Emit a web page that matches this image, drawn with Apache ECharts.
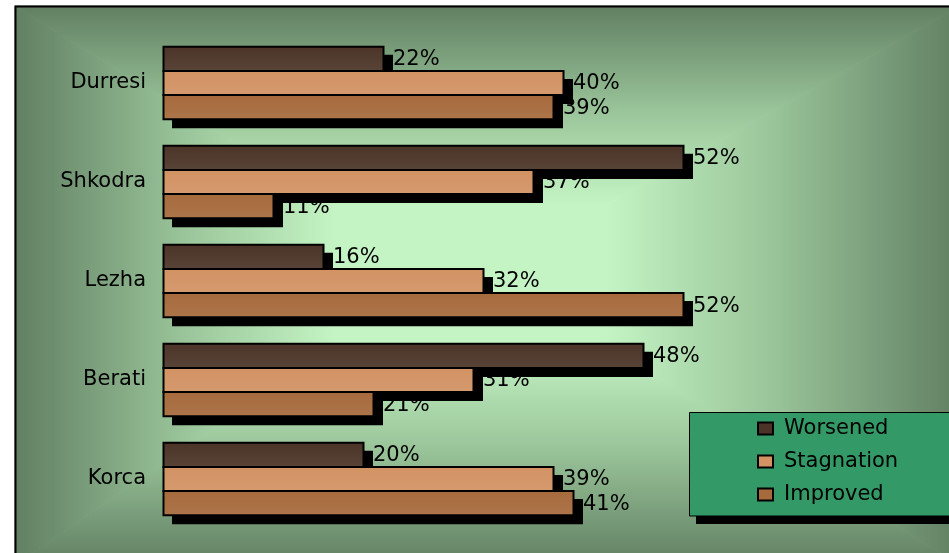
<!DOCTYPE html>
<html>
<head>
<meta charset="utf-8">
<script src="https://cdn.jsdelivr.net/npm/echarts@6/dist/echarts.min.js"></script>
<style>
html,body{margin:0;padding:0;background:#fff;}
#chart{width:949px;height:553px;}
</style>
</head>
<body>
<div id="chart"></div>
<script>
const categories = ['Durresi', 'Shkodra', 'Lezha', 'Berati', 'Korca'];
const worsened = [22, 52, 16, 48, 20];
const stagnation = [40, 37, 32, 31, 39];
const improved = [39, 11, 52, 21, 41];
const seriesNames = ['Worsened', 'Stagnation', 'Improved'];
const seriesColors = ['#4b3427', '#d29263', '#a66a3c'];
const allValues = [worsened, stagnation, improved];

const FONT = 'DejaVu Sans, Liberation Sans, sans-serif';
const GROUP_RATIO = 0.73;
const NS = 3;

const chart = echarts.init(document.getElementById('chart'));

function barGeom(api, si) {
  const val = api.value(0);
  const cat = api.value(1);
  const p0 = api.coord([0, cat]);
  const p1 = api.coord([val, cat]);
  const band = api.size([0, 1])[1];
  const groupH = band * GROUP_RATIO;
  const bw = groupH / NS;
  const top = p0[1] - groupH / 2 + si * bw;
  return { x0: p0[0], x1: p1[0], top: top, h: bw };
}

function barSeries(si) {
  return {
    name: seriesNames[si],
    type: 'custom',
    z: 3,
    itemStyle: { color: seriesColors[si] },
    encode: { x: 0, y: 1 },
    data: allValues[si].map(function (v, i) { return [v, i]; }),
    renderItem: function (params, api) {
      const g = barGeom(api, si);
      return {
        type: 'group',
        children: [
          {
            type: 'rect',
            shape: { x: g.x0 + 9, y: g.top + 8, width: g.x1 - g.x0 + 1, height: g.h + 1 },
            style: { fill: '#000' }
          },
          {
            type: 'rect',
            shape: { x: Math.round(g.x0) + 0.5, y: g.top, width: g.x1 - g.x0, height: g.h },
            style: {
              fill: {
                type: 'linear', x: 0, y: 0, x2: 0, y2: 1,
                colorStops: [
                  { offset: 0, color: seriesColors[si] },
                  { offset: 1, color: echarts.color.lift(seriesColors[si], 0.08) }
                ]
              },
              stroke: '#000',
              lineWidth: 2
            }
          }
        ]
      };
    }
  };
}

function labelSeries(si) {
  return {
    name: seriesNames[si] + ' labels',
    type: 'custom',
    z: 1,
    silent: true,
    encode: { x: 0, y: 1 },
    data: allValues[si].map(function (v, i) { return [v, i]; }),
    renderItem: function (params, api) {
      const g = barGeom(api, si);
      return {
        type: 'text',
        style: {
          x: g.x1 + 10,
          y: g.top + g.h / 2 + 1,
          text: api.value(0) + '%',
          fill: '#000',
          font: '21px ' + FONT,
          verticalAlign: 'middle',
          align: 'left'
        }
      };
    }
  };
}

// background: rectangular "from center" gradient
const FR = { x0: 15, y0: 6, x1: 960, y1: 565 };
const PL = { x0: 335, y0: 205, x1: 605, y1: 345 };
const DARK = '#617f62';
const MID = '#9cc79c';
const LIGHT = '#c4f4c4';
function grad(x, y, x2, y2) {
  return {
    type: 'linear', x: x, y: y, x2: x2, y2: y2,
    colorStops: [
      { offset: 0, color: DARK },
      { offset: 0.55, color: MID },
      { offset: 1, color: LIGHT }
    ]
  };
}
function poly(points, fill) {
  return {
    type: 'polygon', z: -10, silent: true,
    shape: { points: points },
    style: { fill: fill, stroke: fill, lineWidth: 1 }
  };
}

chart.setOption({
  animation: false,
  graphic: [
    poly([[FR.x0, FR.y0], [FR.x1, FR.y0], [PL.x1, PL.y0], [PL.x0, PL.y0]], grad(0, 0, 0, 1)),
    poly([[FR.x0, FR.y1], [FR.x1, FR.y1], [PL.x1, PL.y1], [PL.x0, PL.y1]], grad(0, 1, 0, 0)),
    poly([[FR.x0, FR.y0], [PL.x0, PL.y0], [PL.x0, PL.y1], [FR.x0, FR.y1]], grad(0, 0, 1, 0)),
    poly([[FR.x1, FR.y0], [PL.x1, PL.y0], [PL.x1, PL.y1], [FR.x1, FR.y1]], grad(1, 0, 0, 0)),
    {
      type: 'rect', z: -10, silent: true,
      shape: { x: PL.x0, y: PL.y0, width: PL.x1 - PL.x0, height: PL.y1 - PL.y0 },
      style: { fill: LIGHT, stroke: LIGHT, lineWidth: 1 }
    },
    {
      type: 'rect', z: -9, silent: true,
      shape: { x: 15.5, y: 6.5, width: 960, height: 570 },
      style: { fill: 'none', stroke: '#000', lineWidth: 2 }
    },
    {
      type: 'rect', z: -8, silent: true,
      shape: { x: 696, y: 420, width: 300, height: 104 },
      style: { fill: '#000' }
    },
    {
      type: 'rect', z: -8, silent: true,
      shape: { x: 689.5, y: 412.5, width: 300, height: 103.5 },
      style: { fill: '#339966', stroke: '#000', lineWidth: 1 }
    }
  ],
  grid: { left: 163, top: 33.5, width: 600, height: 495, containLabel: false },
  xAxis: { type: 'value', min: 0, max: 60, show: false },
  yAxis: {
    type: 'category',
    data: categories,
    inverse: true,
    axisLine: { show: false },
    axisTick: { show: false },
    splitLine: { show: false },
    axisLabel: { color: '#000', fontFamily: FONT, fontSize: 21, margin: 17 }
  },
  legend: {
    data: seriesNames,
    orient: 'vertical',
    left: 757,
    top: 418,
    padding: 0,
    icon: 'rect',
    itemWidth: 15,
    itemHeight: 12,
    itemGap: 12,
    selectedMode: false,
    itemStyle: { borderColor: '#000', borderWidth: 2 },
    textStyle: {
      color: '#000', fontFamily: FONT, fontSize: 21, lineHeight: 21,
      padding: [0, 0, 0, 6]
    }
  },
  series: [
    labelSeries(0), labelSeries(1), labelSeries(2),
    barSeries(0), barSeries(1), barSeries(2)
  ]
});
</script>
</body>
</html>
